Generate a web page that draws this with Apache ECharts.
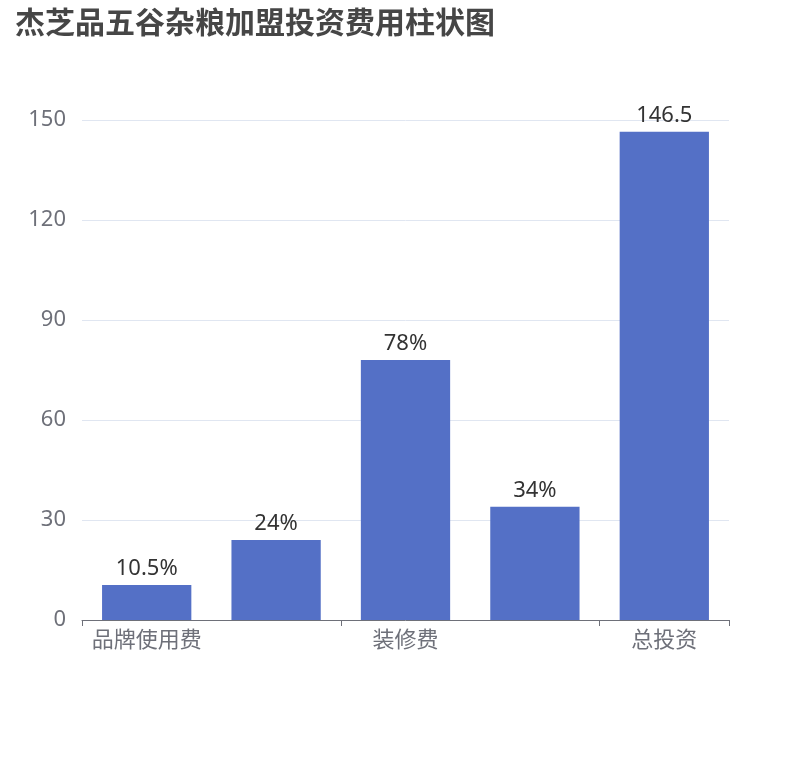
<!DOCTYPE html>
<html><head><meta charset="utf-8">
<script src="https://cdn.jsdelivr.net/npm/echarts@6/dist/echarts.min.js"></script>
<style>html,body{margin:0;padding:0}#c{width:810px;height:760px}</style>
</head><body><div id="c"></div>
<script>
const categories = ['品牌使用费', '设备费', '装修费', '首批进货费', '总投资'];
const values = [10.5, 24, 78, 34, 146.5];
const labels = ['10.5%', '24%', '78%', '34%', '146.5'];
const chart = echarts.init(document.getElementById('c'));
const F = 'Noto Sans, Noto Sans CJK SC, sans-serif';
chart.setOption({
  textStyle: { fontFamily: F },
  title: { text: '杰芝品五谷杂粮加盟投资费用柱状图', left: 10, top: 4,
    textStyle: { fontSize: 30, fontWeight: 'bold', color: '#464646', fontFamily: F } },
  grid: { left: 82, right: 81, top: 120, bottom: 140 },
  xAxis: { type: 'category', data: categories,
    axisLabel: { interval: 1, fontSize: 22, color: '#6e7079', fontFamily: F, margin: 10 },
    axisTick: { show: true, interval: 1, length: 6, lineStyle: { color: '#6e7079' } },
    axisLine: { lineStyle: { color: '#6e7079' } } },
  yAxis: { type: 'value', min: 0, max: 150, interval: 30,
    axisLabel: { fontSize: 22, color: '#6e7079', margin: 16, fontFamily: F },
    splitLine: { lineStyle: { color: '#e0e6f1' } } },
  series: [{ type: 'bar', data: values, barWidth: '69%', itemStyle: { color: '#5470c6' },
    label: { show: true, position: 'top', fontSize: 22, color: '#333', fontFamily: F,
      formatter: p => labels[p.dataIndex] } }]
});
</script></body></html>
